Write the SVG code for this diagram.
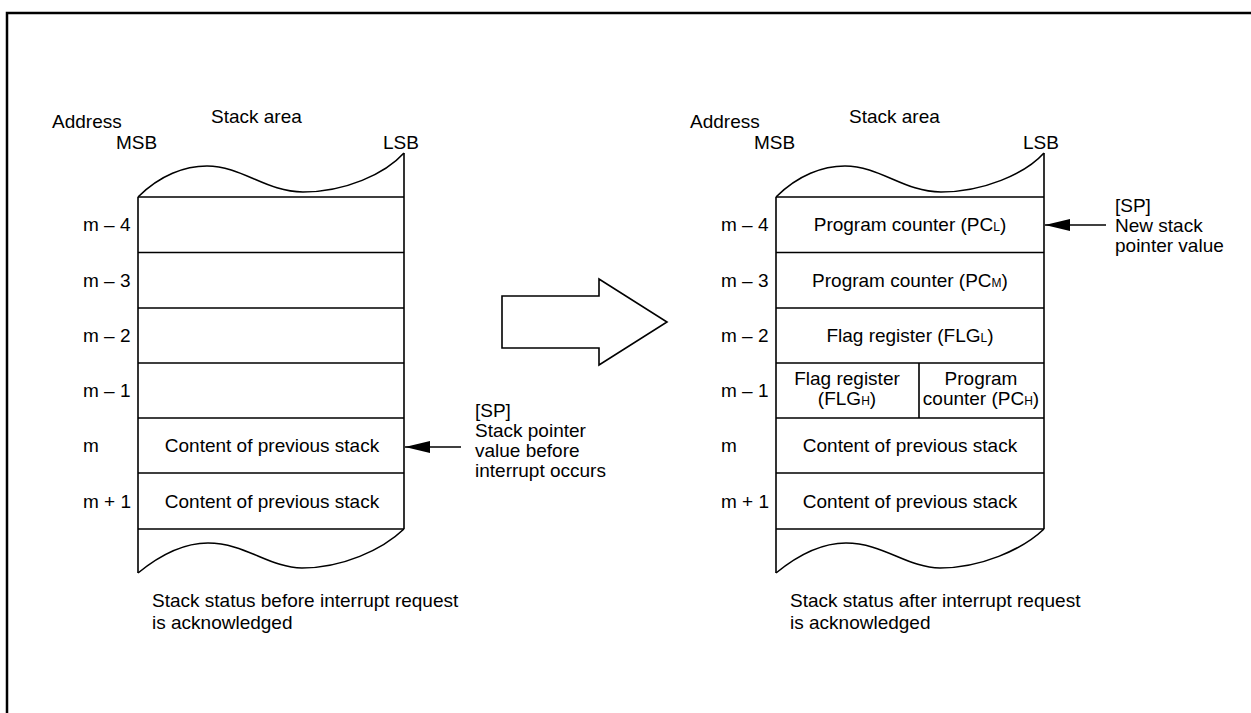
<svg xmlns="http://www.w3.org/2000/svg" width="1251" height="713" viewBox="0 0 1251 713">
<defs>
<style>
text{font-family:"Liberation Sans",Arial,Helvetica,sans-serif;font-size:19px;fill:#000}
.c{text-anchor:middle}
.s{font-size:12px}
.ln{fill:none;stroke:#000;stroke-width:1.6}
</style>
<marker id="ah" markerWidth="26" markerHeight="12" refX="25" refY="6" orient="auto" markerUnits="userSpaceOnUse">
<path d="M0,0 L25,6 L0,12 Z" fill="#000"/>
</marker>
</defs>
<rect width="1251" height="713" fill="#fff"/>
<path d="M7,713 V13 H1251" fill="none" stroke="#000" stroke-width="2.5"/>

<g id="left-stack">
<text x="52" y="128">Address</text>
<text x="211" y="123">Stack area</text>
<text x="116" y="149">MSB</text>
<text x="383" y="149">LSB</text>
<path class="ln" d="M138,197 C160,175 185,166 207,166 C242,166 266,192 303,192 C345,192 385,174 404,153"/>
<path class="ln" d="M404,153 V529"/>
<path class="ln" d="M138,197 V573"/>
<path class="ln" d="M138,573 C160,555 185,543 208,543 C245,543 270,568 302,568 C342,568 382,550 404,529"/>
<path class="ln" d="M138,197 H404 M138,252.5 H404 M138,308 H404 M138,363 H404 M138,418 H404 M138,473 H404 M138,529 H404"/>
<text x="83" y="231">m – 4</text>
<text x="83" y="287">m – 3</text>
<text x="83" y="342">m – 2</text>
<text x="83" y="397">m – 1</text>
<text x="83" y="452">m</text>
<text x="83" y="508">m + 1</text>
<text class="c" x="272" y="452">Content of previous stack</text>
<text class="c" x="272" y="508">Content of previous stack</text>
<text x="152" y="607">Stack status before interrupt request</text>
<text x="152" y="629">is acknowledged</text>
</g>

<g id="left-sp-label">
<text x="475" y="417">[SP]</text>
<text x="475" y="437">Stack pointer</text>
<text x="475" y="457">value before</text>
<text x="475" y="477">interrupt occurs</text>
</g>

<g id="transition-arrow">
<polygon points="502,296 599,296 599,279 667,322 599,365 599,348 502,348" fill="#fff" stroke="#000" stroke-width="1.6"/>
</g>

<g id="right-stack">
<text x="690" y="128">Address</text>
<text x="849" y="123">Stack area</text>
<text x="754" y="149">MSB</text>
<text x="1023" y="149">LSB</text>
<path class="ln" d="M776,197 C798,175 823,166 845,166 C880,166 904,192 941,192 C983,192 1025,174 1044,153"/>
<path class="ln" d="M1044,153 V529"/>
<path class="ln" d="M776,197 V573"/>
<path class="ln" d="M776,573 C798,555 823,543 846,543 C883,543 908,568 940,568 C980,568 1022,550 1044,529"/>
<path class="ln" d="M776,197 H1044 M776,252.5 H1044 M776,308 H1044 M776,363 H1044 M776,418 H1044 M776,473 H1044 M776,529 H1044 M919,363 V418"/>
<text x="721" y="231">m – 4</text>
<text x="721" y="287">m – 3</text>
<text x="721" y="342">m – 2</text>
<text x="721" y="397">m – 1</text>
<text x="721" y="452">m</text>
<text x="721" y="508">m + 1</text>
<text class="c" x="910" y="231">Program counter (PC<tspan class="s">L</tspan>)</text>
<text class="c" x="910" y="287">Program counter (PC<tspan class="s">M</tspan>)</text>
<text class="c" x="910" y="342">Flag register (FLG<tspan class="s">L</tspan>)</text>
<text class="c" x="847" y="385">Flag register</text>
<text class="c" x="847" y="405">(FLG<tspan class="s">H</tspan>)</text>
<text class="c" x="981" y="385">Program</text>
<text class="c" x="981" y="405">counter (PC<tspan class="s">H</tspan>)</text>
<text class="c" x="910" y="452">Content of previous stack</text>
<text class="c" x="910" y="508">Content of previous stack</text>
<text x="790" y="607">Stack status after interrupt request</text>
<text x="790" y="629">is acknowledged</text>
</g>

<g id="right-sp-label">
<text x="1115" y="212">[SP]</text>
<text x="1115" y="232">New stack</text>
<text x="1115" y="252">pointer value</text>
</g>

<g id="connectors">
<line x1="461" y1="447" x2="405" y2="447" stroke="#000" stroke-width="1.3" marker-end="url(#ah)"/>
<line x1="1106" y1="225" x2="1045" y2="225" stroke="#000" stroke-width="1.3" marker-end="url(#ah)"/>
</g>
</svg>
